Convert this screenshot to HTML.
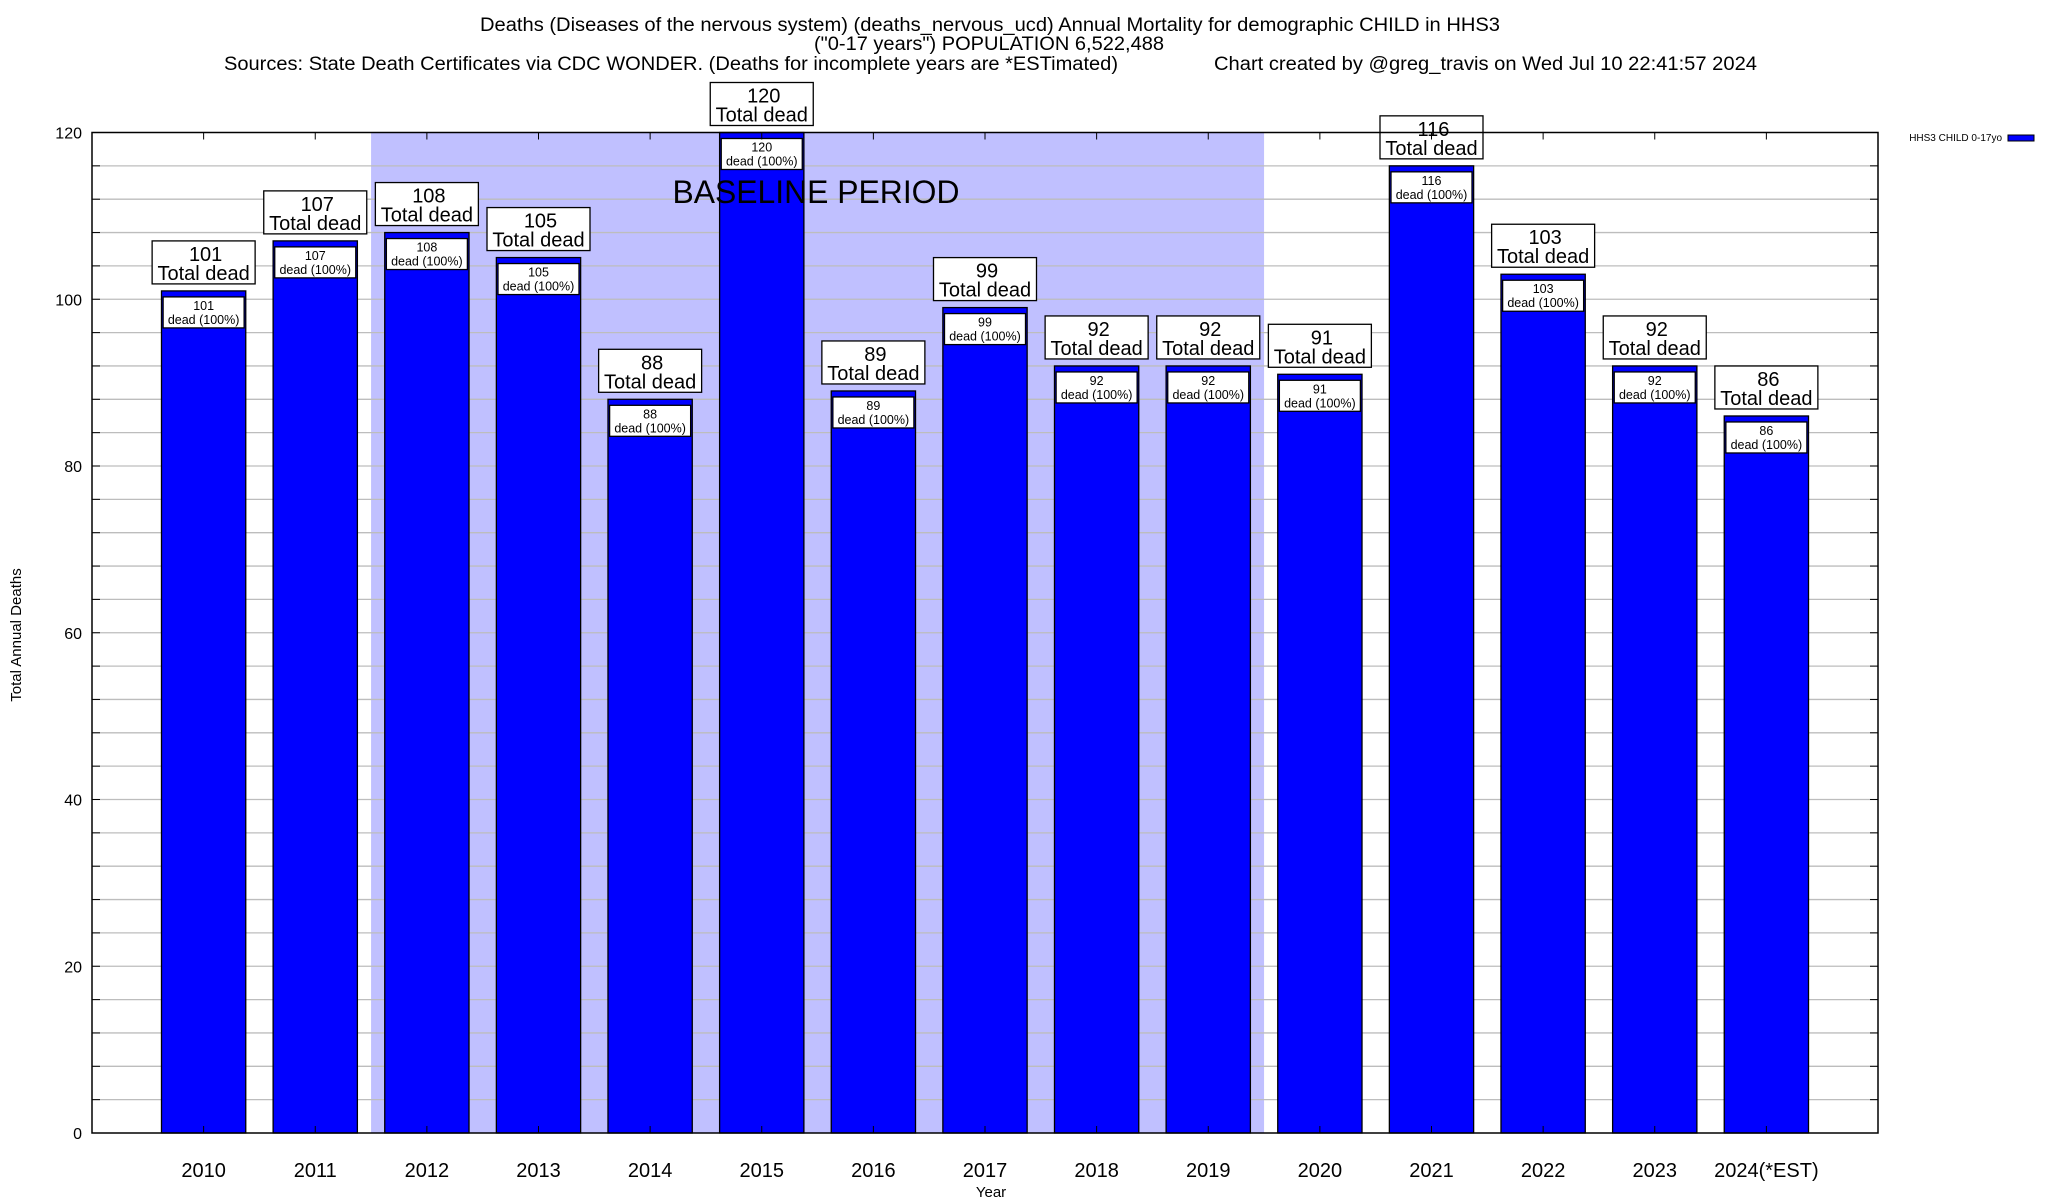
<!DOCTYPE html>
<html><head><meta charset="utf-8"><style>
html,body{margin:0;padding:0;background:#fff;}
svg{display:block;font-family:"Liberation Sans",Arial,sans-serif;}
</style></head><body>
<svg id="chart" width="2048" height="1200" viewBox="0 0 2048 1200" xmlns="http://www.w3.org/2000/svg">
<text x="990" y="31" font-size="19" text-anchor="middle" textLength="1020" lengthAdjust="spacingAndGlyphs">Deaths (Diseases of the nervous system) (deaths_nervous_ucd) Annual Mortality for demographic CHILD in HHS3</text>
<text x="989" y="50" font-size="19" text-anchor="middle" textLength="350" lengthAdjust="spacingAndGlyphs">("0-17 years") POPULATION 6,522,488</text>
<text x="224" y="70" font-size="19" textLength="894" lengthAdjust="spacingAndGlyphs">Sources: State Death Certificates via CDC WONDER. (Deaths for incomplete years are *ESTimated)</text>
<text x="1214" y="70" font-size="19" textLength="543" lengthAdjust="spacingAndGlyphs">Chart created by @greg_travis on Wed Jul 10 22:41:57 2024</text>
<g id="plot"></g>
</svg>
<script>
const categories = ["2010","2011","2012","2013","2014","2015","2016","2017","2018","2019","2020","2021","2022","2023","2024(*EST)"];
const deaths = [101,107,108,105,88,120,89,99,92,92,91,116,103,92,86];
const yTicks = [0,20,40,60,80,100,120];
const baselineRange = [1.5, 9.5];

const NS = "http://www.w3.org/2000/svg";
const L = 92, R = 1878, T = 132.5, B = 1133, YMAX = 120;
const step = (R - L) / (categories.length + 1);
const xPos = i => L + (i + 1) * step;
const yPos = v => B - (v / YMAX) * (B - T);
const g = document.getElementById('plot');
function mk(tag, attrs, parent) {
  const e = document.createElementNS(NS, tag);
  for (const k in attrs) e.setAttribute(k, attrs[k]);
  (parent || g).appendChild(e);
  return e;
}

// baseline shading
const shade = mk('rect', {x: xPos(baselineRange[0]), y: T, width: xPos(baselineRange[1]) - xPos(baselineRange[0]), height: B - T, fill: '#c0c0ff'});



// gridlines every 4
for (let v = 4; v < YMAX; v += 4) {
  const ln = mk('line', {x1: L, x2: R, y1: yPos(v), y2: yPos(v), stroke: '#bdbdbd', 'stroke-width': 1.3});
  
  
  mk('line', {x1: L, x2: L + 8, y1: yPos(v), y2: yPos(v), stroke: '#000', 'stroke-width': 1});
  mk('line', {x1: R - 8, x2: R, y1: yPos(v), y2: yPos(v), stroke: '#000', 'stroke-width': 1});
}

// bars
deaths.forEach((d, i) => {
  const cx = xPos(i), bw = step * 0.755;
  const bar = mk('rect', {x: cx - bw / 2, y: yPos(d), width: bw, height: B - yPos(d), fill: '#0000ff', stroke: '#000', 'stroke-width': 1.3});
  
  
});

// baseline label
const bl = mk('text', {x: 816, y: 203, 'font-size': 32, 'text-anchor': 'middle', textLength: 287, lengthAdjust: 'spacingAndGlyphs'});
bl.textContent = 'BASELINE PERIOD';



// labels
deaths.forEach((d, i) => {
  const cx = xPos(i), yt = yPos(d);
  // inner box
  const ib = mk('rect', {x: cx - 40.5, y: yt + 6, width: 81, height: 31, fill: '#fff', stroke: '#000', 'stroke-width': 1.3});
  
  
  const t1 = mk('text', {x: cx, y: yt + 19, 'font-size': 12.5, 'text-anchor': 'middle'});
  t1.textContent = d;
  
  
  const t2 = mk('text', {x: cx, y: yt + 33, 'font-size': 12.5, 'text-anchor': 'middle'});
  t2.textContent = 'dead (100%)';
  
  
  // total box
  const ob = mk('rect', {x: cx - 51.5, y: yt - 50, width: 103, height: 43, fill: '#fff', stroke: '#000', 'stroke-width': 1.3});
  
  
  const t3 = mk('text', {x: cx + 2, y: yt - 30, 'font-size': 20, 'text-anchor': 'middle'});
  t3.textContent = d;
  
  
  const t4 = mk('text', {x: cx, y: yt - 11, 'font-size': 20, 'text-anchor': 'middle'});
  t4.textContent = 'Total dead';
  
  
  // x tick label
  const xl = mk('text', {x: cx, y: 1177, 'font-size': 20, 'text-anchor': 'middle'});
  xl.textContent = categories[i];
  
  
  mk('line', {x1: cx, x2: cx, y1: T, y2: T + 7, stroke: '#000', 'stroke-width': 1});
  mk('line', {x1: cx, x2: cx, y1: B, y2: B - 7, stroke: '#000', 'stroke-width': 1});
});

// y ticks
yTicks.forEach(v => {
  const t = mk('text', {x: 82, y: yPos(v) + 6, 'font-size': 16, 'text-anchor': 'end'});
  t.textContent = v;
  
  
});

// frame
const fr = mk('rect', {x: L, y: T, width: R - L, height: B - T, fill: 'none', stroke: '#000', 'stroke-width': 1.5});



const xt = mk('text', {x: 991, y: 1197, 'font-size': 15, 'text-anchor': 'middle'});
xt.textContent = 'Year';


const yt = mk('text', {x: 0, y: 0, 'font-size': 15, 'text-anchor': 'middle', transform: 'translate(21,635) rotate(-90)'});
yt.textContent = 'Total Annual Deaths';



// legend
const lg = mk('text', {x: 2002, y: 141, 'font-size': 10, 'text-anchor': 'end'});
lg.textContent = 'HHS3 CHILD 0-17yo';


const sw = mk('rect', {x: 2008, y: 135, width: 26, height: 6, fill: '#0000ff', stroke: '#000', 'stroke-width': 1});


</script>
</body></html>
